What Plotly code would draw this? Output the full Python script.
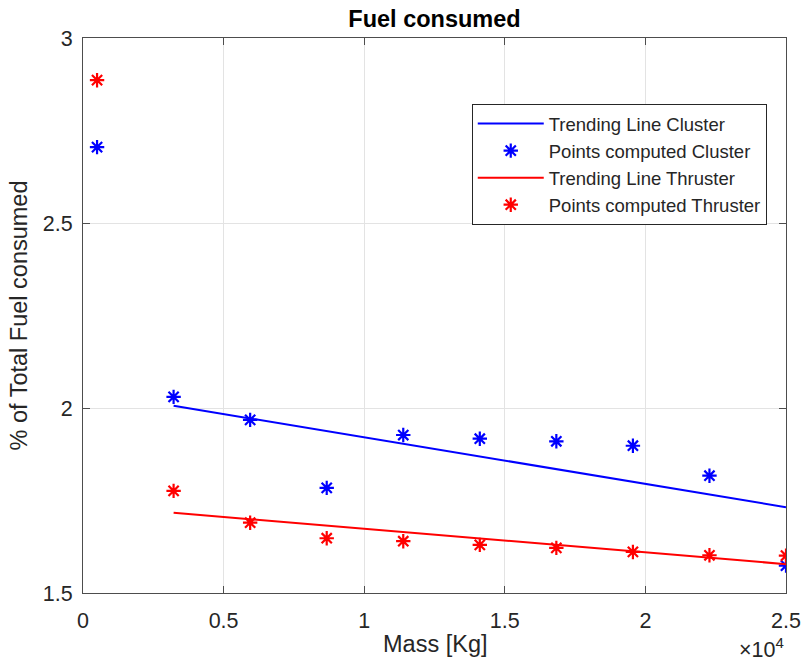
import plotly.graph_objects as go

mass = [500, 3222, 5944, 8667, 11389, 14111, 16833, 19556, 22278, 25000]
cluster_pts = [2.705, 2.030, 1.968, 1.784, 1.927, 1.917, 1.910, 1.898, 1.817, 1.574]
thruster_pts = [2.886, 1.776, 1.690, 1.648, 1.640, 1.630, 1.622, 1.611, 1.602, 1.601]
trend_x = [3222, 25000]
cluster_trend = [2.006, 1.732]
thruster_trend = [1.717, 1.578]

xtick_vals = [0, 5000, 10000, 15000, 20000, 25000]
xtick_text = ["0", "0.5", "1", "1.5", "2", "2.5"]
ytick_vals = [1.5, 2, 2.5, 3]
ytick_text = ["1.5", "2", "2.5", "3"]

FONT = "Liberation Sans, Arial, sans-serif"
TXT = "#262626"

fig = go.Figure()
fig.add_trace(go.Scatter(x=trend_x, y=cluster_trend, mode="lines",
                         line=dict(color="#0000ff", width=2),
                         name="Trending Line Cluster"))
fig.add_trace(go.Scatter(x=mass, y=cluster_pts, mode="markers",
                         marker=dict(symbol="asterisk-open", size=12, color="#0000ff",
                                     line=dict(color="#0000ff", width=2.2)),
                         name="Points computed Cluster"))
fig.add_trace(go.Scatter(x=trend_x, y=thruster_trend, mode="lines",
                         line=dict(color="#ff0000", width=2),
                         name="Trending Line Thruster"))
fig.add_trace(go.Scatter(x=mass, y=thruster_pts, mode="markers",
                         marker=dict(symbol="asterisk-open", size=12, color="#ff0000",
                                     line=dict(color="#ff0000", width=2.2)),
                         name="Points computed Thruster"))

axis_common = dict(showline=True, linecolor="#4d4d4d", linewidth=1, mirror="ticks",
                   ticks="inside", ticklen=7, tickcolor="#4d4d4d",
                   showgrid=True, gridcolor="#e3e3e3", gridwidth=1, zeroline=False,
                   automargin=False,
                   tickfont=dict(family=FONT, size=21.5, color=TXT))

fig.update_xaxes(range=[0, 25000], tickvals=xtick_vals, ticktext=xtick_text,
                 ticklabelstandoff=8, **axis_common)
fig.update_yaxes(range=[1.5, 3], tickvals=ytick_vals, ticktext=ytick_text,
                 ticklabelstandoff=5,
                 title=dict(text="% of Total Fuel consumed", font=dict(family=FONT, size=23.5, color=TXT),
                            standoff=8),
                 **axis_common)

fig.update_layout(
    width=801, height=664,
    margin=dict(l=83, r=15, t=38, b=71),
    paper_bgcolor="white", plot_bgcolor="white",
    title=dict(text="<b>Fuel consumed</b>", x=0.5, xref="paper", xanchor="center",
               y=0.971, yanchor="middle",
               font=dict(family=FONT, size=23.5, color="black")),
    legend=dict(x=0.553, y=0.881, xanchor="left", yanchor="top",
                bordercolor=TXT, borderwidth=1, bgcolor="white",
                font=dict(family=FONT, size=18.5, color=TXT),
                tracegroupgap=0, itemwidth=66),
    showlegend=True,
    annotations=[
        dict(text="Mass [Kg]", xref="paper", yref="paper",
             x=0.5, y=-0.0919, xanchor="center", yanchor="middle", showarrow=False,
             font=dict(family=FONT, size=23.5, color=TXT)),
        dict(text="×10<sup>4</sup>", xref="paper", yref="paper",
             x=1.0, y=-0.128, xanchor="right", yanchor="bottom", showarrow=False,
             font=dict(family=FONT, size=21.5, color=TXT)),
    ],
)

fig.write_html("out.html")
